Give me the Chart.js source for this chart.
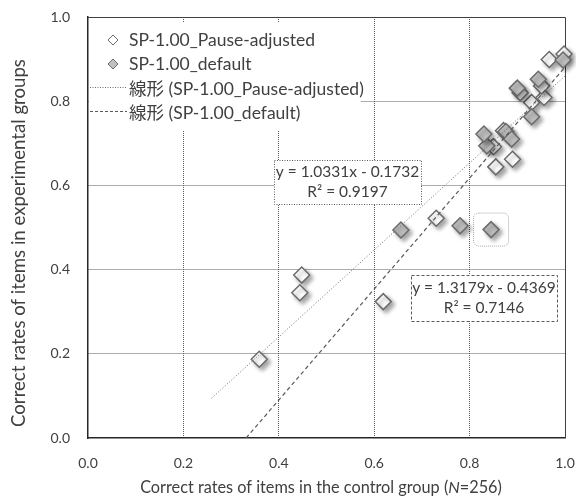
<!DOCTYPE html>
<html>
<head>
<meta charset="utf-8">
<script src="https://cdn.jsdelivr.net/npm/chart.js@4.4.1/dist/chart.umd.min.js"></script>
<style>
    html, body { margin: 0; padding: 0; background: #ffffff; }
    #wrap { width: 576px; height: 499px; }
</style>
</head>
<body>
<div id="wrap"><canvas id="chart" width="576" height="499"></canvas></div>
<script>
/** Data */
const pauseX = [0.359, 0.448, 0.444, 0.619, 0.730, 0.855, 0.890, 0.850, 0.871, 0.930, 0.956, 0.906, 0.951, 0.967, 0.998];
const pauseY = [0.187, 0.387, 0.345, 0.324, 0.522, 0.644, 0.662, 0.692, 0.730, 0.797, 0.809, 0.820, 0.836, 0.899, 0.912];
const defaultX = [0.656, 0.780, 0.845, 0.836, 0.830, 0.876, 0.888, 0.930, 0.900, 0.944, 0.996];
const defaultY = [0.494, 0.504, 0.495, 0.694, 0.722, 0.728, 0.710, 0.763, 0.831, 0.852, 0.898];

// trendlines: [slope, intercept] and x range drawn
const pauseFit = [1.0331, -0.1732];
const pauseFitRange = [0.259, 1.0];
const defaultFit = [1.3179, -0.4369];
const defaultFitRange = [0.3315, 1.0];

const axisTicks = [0.0, 0.2, 0.4, 0.6, 0.8, 1.0];

const seriesNames = ['SP-1.00_Pause-adjusted', 'SP-1.00_default'];
const fitNames = ['線形 (SP-1.00_Pause-adjusted)', '線形 (SP-1.00_default)'];
const pauseFitText = ['y = 1.0331x - 0.1732', 'R² = 0.9197'];
const defaultFitText = ['y = 1.3179x - 0.4369', 'R² = 0.7146'];
const xTitle = ['Correct rates of items in the control group (', 'N', '=256)'];
const yTitle = 'Correct rates of items in experimental groups';

/** Styles */
const FONT = 'Lato, "Noto Sans CJK JP", sans-serif';
const TEXT = '#404040';
const EDGE = '#6b6b6b';
const GRAY = '#c0c0c0';

/** Local functions */
let Local = {
    toPoints: function (xs, ys) {
        return xs.map((x, i) => ({ x: x, y: ys[i] }));
    },
    fitLine: function (fit, range) {
        return range.map(x => ({ x: x, y: fit[0] * x + fit[1] }));
    },
    /**
     * font size that gives the text the wanted width
     */
    sizeFor: function (ctx, text, width) {
        ctx.font = '20px ' + FONT;
        return 20 * width / ctx.measureText(text).width;
    },
    diamond: function (ctx, x, y, r, fill) {
        ctx.beginPath();
        ctx.moveTo(x, y - r);
        ctx.lineTo(x + r, y);
        ctx.lineTo(x, y + r);
        ctx.lineTo(x - r, y);
        ctx.closePath();
        ctx.fillStyle = fill;
        ctx.fill();
        ctx.lineWidth = 1;
        ctx.strokeStyle = EDGE;
        ctx.stroke();
    },
    textBox: function (ctx, cx, cy, w, h, lines, dash) {
        ctx.save();
        ctx.fillStyle = '#ffffff';
        ctx.fillRect(cx - w / 2, cy - h / 2, w, h);
        ctx.setLineDash(dash);
        ctx.strokeStyle = '#595959';
        ctx.lineWidth = 1;
        ctx.strokeRect(Math.round(cx - w / 2) + 0.5, Math.round(cy - h / 2) + 0.5, w, h);
        ctx.setLineDash([]);
        ctx.fillStyle = TEXT;
        ctx.font = '15.5px ' + FONT;
        ctx.textAlign = 'center';
        ctx.textBaseline = 'middle';
        ctx.fillText(lines[0], cx, cy - 10);
        ctx.fillText(lines[1], cx, cy + 10);
        ctx.restore();
    }
};

/** Plugins */
const markerShadow = {
    id: 'markerShadow',
    beforeDatasetDraw: function (chart, args) {
        if (!chart.data.datasets[args.index].shadow) return;
        const ctx = chart.ctx;
        ctx.save();
        ctx.shadowColor = 'rgba(0,0,0,0.35)';
        ctx.shadowBlur = 4;
        ctx.shadowOffsetX = 3;
        ctx.shadowOffsetY = 3;
    },
    afterDatasetDraw: function (chart, args) {
        if (!chart.data.datasets[args.index].shadow) return;
        chart.ctx.restore();
    }
};

const frame = {
    id: 'frame',
    beforeDatasetsDraw: function (chart) {
        const ctx = chart.ctx;
        const a = chart.chartArea;
        const xs = chart.scales.x, ys = chart.scales.y;
        ctx.save();
        ctx.strokeStyle = '#404040';
        ctx.lineWidth = 1;
        ctx.beginPath();
        ctx.moveTo(a.left, a.top + 0.5);
        ctx.lineTo(a.right + 0.5, a.top + 0.5);
        ctx.lineTo(a.right + 0.5, a.bottom);
        ctx.stroke();

        // highlight around one default point
        const px = xs.getPixelForValue(defaultX[2]);
        const py = ys.getPixelForValue(defaultY[2]);
        ctx.setLineDash([1, 1]);
        ctx.strokeStyle = '#a6a6a6';
        ctx.beginPath();
        ctx.roundRect(px - 17.5, py - 16.5, 35, 33, 5);
        ctx.stroke();
        ctx.restore();
    },
    afterDraw: function (chart) {
        const ctx = chart.ctx;
        const a = chart.chartArea;
        const xs = chart.scales.x, ys = chart.scales.y;

        // legend
        ctx.save();
        ctx.fillStyle = '#ffffff';
        ctx.fillRect(a.left + 1, 23, 272, 107);
        ctx.font = '17.5px ' + FONT;
        ctx.fillStyle = TEXT;
        ctx.textBaseline = 'middle';
        ctx.textAlign = 'left';
        const rows = [40, 64, 89, 113];
        const tx = a.left + 41;
        Local.diamond(ctx, a.left + 25, rows[0], 5, '#ffffff');
        Local.diamond(ctx, a.left + 25, rows[1], 5, GRAY);
        ctx.fillStyle = TEXT;
        ctx.fillText(seriesNames[0], tx, rows[0]);
        ctx.fillText(seriesNames[1], tx, rows[1]);
        ctx.strokeStyle = '#6b6b6b';
        ctx.lineWidth = 1;
        ctx.setLineDash([1, 1.5]);
        ctx.beginPath();
        ctx.moveTo(a.left + 2, rows[2] - 1.5);
        ctx.lineTo(tx - 2, rows[2] - 1.5);
        ctx.stroke();
        ctx.strokeStyle = '#595959';
        ctx.setLineDash([3, 2]);
        ctx.beginPath();
        ctx.moveTo(a.left + 2, rows[3] - 1.5);
        ctx.lineTo(tx - 2, rows[3] - 1.5);
        ctx.stroke();
        ctx.setLineDash([]);
        ctx.fillText(fitNames[0], tx, rows[2]);
        ctx.fillText(fitNames[1], tx, rows[3]);
        ctx.restore();

        // regression labels
        Local.textBox(ctx, xs.getPixelForValue(0.544), ys.getPixelForValue(0.608), 147, 44, pauseFitText, [1, 1.5]);
        Local.textBox(ctx, xs.getPixelForValue(0.830), ys.getPixelForValue(0.333), 146, 46, defaultFitText, [3, 2]);

        // axis titles
        ctx.save();
        ctx.fillStyle = TEXT;
        ctx.textBaseline = 'middle';
        const xs1 = Local.sizeFor(ctx, xTitle.join(''), 363);
        ctx.font = xs1 + 'px ' + FONT;
        const w0 = ctx.measureText(xTitle[0]).width;
        const w2 = ctx.measureText(xTitle[2]).width;
        ctx.font = 'italic ' + xs1 + 'px ' + FONT;
        const w1 = ctx.measureText(xTitle[1]).width;
        let x0 = 321 - (w0 + w1 + w2) / 2;
        ctx.textAlign = 'left';
        ctx.font = xs1 + 'px ' + FONT;
        ctx.fillText(xTitle[0], x0, 488);
        ctx.font = 'italic ' + xs1 + 'px ' + FONT;
        ctx.fillText(xTitle[1], x0 + w0, 488);
        ctx.font = xs1 + 'px ' + FONT;
        ctx.fillText(xTitle[2], x0 + w0 + w1, 488);

        const ys1 = Local.sizeFor(ctx, yTitle, 368);
        ctx.translate(19, 243);
        ctx.rotate(-Math.PI / 2);
        ctx.textAlign = 'center';
        ctx.font = ys1 + 'px ' + FONT;
        ctx.fillText(yTitle, 0, 0);
        ctx.restore();
    }
};

/** Chart */
const gridColor = function (c) {
    if (c.tick && (c.tick.value === 0 || c.tick.value === 1)) return 'rgba(0,0,0,0)';
    return '#595959';
};

const axis = function (fit) {
    return {
        type: 'linear',
        min: 0,
        max: 1,
        afterBuildTicks: function (scale) {
            scale.ticks = axisTicks.map(v => ({ value: v }));
        },
        afterFit: function (scale) {
            fit(scale);
            scale.paddingLeft = 0;
            scale.paddingRight = 0;
            scale.paddingTop = 0;
            scale.paddingBottom = 0;
        },
        grid: { color: gridColor, lineWidth: 1, drawTicks: false },
        border: { display: true, color: '#262626', width: 1.5, dash: [1, 1] },
        ticks: {
            color: TEXT,
            font: { family: FONT, size: 14 },
            callback: v => v.toFixed(1)
        }
    };
};

const xAxis = axis(function (scale) { scale.height = 61; });
xAxis.ticks.padding = 17;
const yAxis = axis(function (scale) { scale.width = 88; });
yAxis.ticks.padding = 18;

new Chart(document.getElementById('chart'), {
    type: 'scatter',
    data: {
        datasets: [{
            label: fitNames[0],
            data: Local.fitLine(pauseFit, pauseFitRange),
            showLine: true,
            pointRadius: 0,
            borderColor: '#6b6b6b',
            borderWidth: 1,
            borderDash: [1, 2],
            order: 0
        }, {
            label: fitNames[1],
            data: Local.fitLine(defaultFit, defaultFitRange),
            showLine: true,
            pointRadius: 0,
            borderColor: '#595959',
            borderWidth: 1.2,
            borderDash: [4, 3],
            order: 0
        }, {
            label: seriesNames[1],
            data: Local.toPoints(defaultX, defaultY),
            pointStyle: 'rectRot',
            pointRadius: 8,
            pointBackgroundColor: GRAY,
            pointBorderColor: EDGE,
            pointBorderWidth: 1.5,
            shadow: true,
            clip: false,
            order: 1
        }, {
            label: seriesNames[0],
            data: Local.toPoints(pauseX, pauseY),
            pointStyle: 'rectRot',
            pointRadius: 8,
            pointBackgroundColor: '#ffffff',
            pointBorderColor: EDGE,
            pointBorderWidth: 1.5,
            shadow: true,
            clip: false,
            order: 2
        }]
    },
    options: {
        responsive: false,
        animation: false,
        events: [],
        layout: { padding: { top: 17, right: 11, left: 0, bottom: 0 } },
        plugins: { legend: { display: false }, tooltip: { enabled: false } },
        scales: { x: xAxis, y: yAxis }
    },
    plugins: [markerShadow, frame]
});
</script>
</body>
</html>
